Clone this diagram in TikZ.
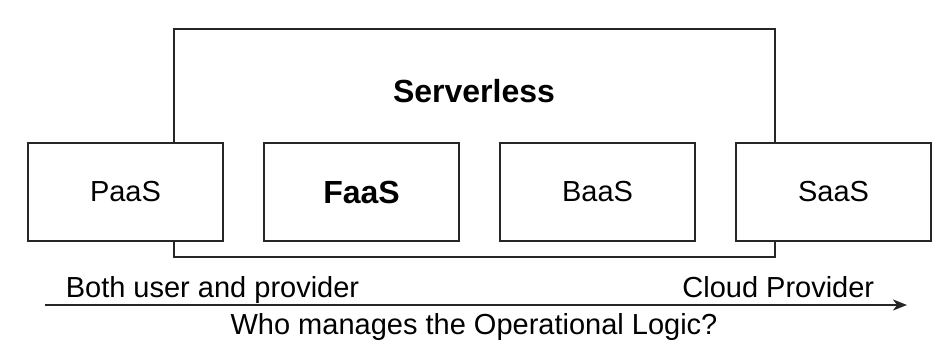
\documentclass[tikz,border=0pt]{standalone}
\usepackage{fontspec}
\setmainfont{Liberation Sans}
\usetikzlibrary{positioning, arrows.meta}

\begin{document}
\begin{tikzpicture}[%
    x=1pt, y=-1pt,
    >={Stealth[length=14pt, width=11pt, inset=4pt]}, line width=1.6pt,
    node distance=236pt,
    align=center,
    layer/.style={%
      rectangle,
      minimum width=195pt,
      minimum height=98pt,
      fill=white,
      draw=black!85,
      font=\fontsize{29}{34}\selectfont
    },
    caption/.style={%
      inner sep=0pt,
      font=\fontsize{29}{34}\selectfont
    },
    heading/.style={%
      font=\bfseries\fontsize{32}{38}\selectfont
    }
  ]
    \useasboundingbox (0,0) rectangle (938,347);

    \node[draw=black!85, minimum width=601pt, minimum height=228pt, inner sep=0pt] (0) at (474.5,143) {};
    \node[heading, inner sep=0pt, anchor=base] (title) at (474,103) {Serverless};

    \node[layer] (1) at (125.5,192) {PaaS};

    \node[layer, heading] (2) [right of=1] {FaaS};

    \node[layer] (3) [right of=2] {BaaS};

    \node[layer] (4) [right of=3] {SaaS};

    \coordinate (from) at (45,305);
    \coordinate (to) at (907,305);
    \draw[->, draw=black!85] (from) -- (to);

    \node[caption, anchor=base west] (user) at (65,298) {Both user and provider};
    \node[caption, anchor=base east] (provider) at (875,298) {Cloud Provider};
    \node[caption, anchor=base] (question) at (474,335) {Who manages the Operational Logic?};
  \end{tikzpicture}
\end{document}
